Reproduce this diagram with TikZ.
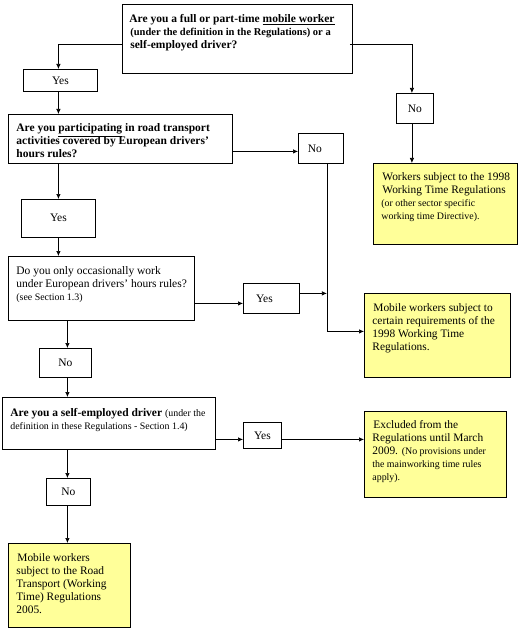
\documentclass[tikz,border=0pt]{standalone}
\usepackage{fontspec}
\setmainfont{Liberation Serif}
\usetikzlibrary{arrows.meta}
\definecolor{yel}{RGB}{255,255,153}
\newcommand\fs{\fontsize{9.9}{13}\selectfont}
% name, x, y, w, h, style, top lead, text
\newcommand\bx[8]{%
  \node[#6, anchor=north west, inner sep=0pt, minimum width=#4pt, minimum height=#5pt] (#1) at (#2,#3)
  {\parbox[c][#5pt][t]{#4pt}{\vspace*{#7pt}\leftskip=8pt\rightskip=0pt plus 1fil\parindent=0pt #8\par}};}
% centered label box: name, x, y, w, h, text
\newcommand\cbx[6]{%
  \node[lbl, minimum width=#4pt, minimum height=#5pt] (#1) at (#2,#3) {#6};}
\begin{document}
\begin{tikzpicture}[x=1pt,y=-1pt,
  qbox/.style={draw=black, line width=0.8pt, fill=white, font=\fontsize{11.5}{13}\selectfont},
  ybox/.style={draw=black, line width=0.8pt, fill=yel, font=\fontsize{11.4}{13}\selectfont},
  lbl/.style={draw=black, line width=0.8pt, fill=white, anchor=north west, inner sep=0pt, font=\fontsize{11.5}{12}\selectfont},
  arr/.style={line width=0.7pt, -{Latex[length=5pt,width=4.5pt]}},
  ln/.style={line width=0.7pt}]
\useasboundingbox (0,0) rectangle (520,631);
\fill[white] (0,0) rectangle (520,631);

% question boxes
\bx{q1}{122}{4}{230}{69}{qbox}{10}{\hspace*{-1pt}\textbf{Are you a full or part-time \underline{mobile worker}}\\
  {\fontsize{10.5}{13}\selectfont\textbf{(under the definition in the Regulations) or a}}\\
  \textbf{self-employed driver?}}
\bx{q2}{8}{114}{224}{49}{qbox}{9.5}{\textbf{Are you \underline{participating} in road transport\\
  activities covered by European drivers'\\ hours rules?}}
\bx{q3}{8}{256}{186}{64}{qbox}{10.5}{Do you only occasionally work\\
  under European drivers' hours rules?\\ {\fs (see Section 1.3)}}
\bx{q4}{2}{397}{213}{52}{qbox}{11}{\textbf{Are you a self-employed driver} {\fs (under the\\
  definition in these Regulations - Section 1.4)}}

% outcome boxes
\bx{y1}{373}{163}{144}{81}{ybox}{9.5}{\hspace*{1pt}Workers subject to the 1998\\ \hspace*{1pt}Working Time Regulations\\
  {\fs (or other sector specific\\ working time Directive).}}
\bx{y2}{364}{293}{146}{84}{ybox}{10.5}{\hspace*{1pt}Mobile workers subject to\\ certain requirements of the\\
  1998 Working Time\\ Regulations.}
\bx{y3}{364}{411}{142}{86}{ybox}{9}{\hspace*{1pt}Excluded from the\\ Regulations until March\\
  2009. {\fs (No provisions under\\ the mainworking time rules\\ apply).}}
\bx{y4}{8}{543}{122}{84}{ybox}{10.5}{\hspace*{1pt}Mobile workers\\ subject to the Road\\
  Transport (Working\\ Time) Regulations\\ 2005.}

% answer labels
\cbx{yes1}{23}{69}{74}{22}{Yes}
\cbx{no1}{396}{93}{37}{30}{No}
\cbx{no2}{298}{133}{45}{30}{\hspace*{-12pt}No}
\cbx{yes2}{21}{199}{74}{38}{\raisebox{2pt}{Yes}}
\cbx{yes3}{243}{283}{56}{30}{\hspace*{-14pt}Yes}
\cbx{no3}{39}{348}{52}{29}{No}
\cbx{yes4}{243}{422}{38}{26}{Yes}
\cbx{no4}{46}{478}{44}{27}{No}

% connectors
\coordinate (q1w) at ([yshift=-5pt]q1.west);
\coordinate (q1e) at ([yshift=-5pt]q1.east);
\draw[arr] (q1w) -| ([xshift=-2pt]yes1.north);
\draw[arr] ([xshift=-3pt]q1e) -| ([xshift=-3pt]no1.north);
\draw[arr] ([xshift=-3pt]no1.south) -- ([xshift=-3pt]no1.south |- y1.north);
\draw[arr] ([xshift=-2pt]yes1.south) -- ([xshift=-2pt]yes1.south |- q2.north);
\draw[arr] ([yshift=-3pt]no2.west -| q2.east) -- ([yshift=-3pt]no2.west);
\coordinate (j) at ([xshift=6pt]no2.south);
\draw[arr] (j) |- ([yshift=4pt]y2.west);
\draw[arr] (yes2.north |- q2.south) -- (yes2.north);
\draw[arr] (yes2.south) -- (yes2.south |- q3.north);
\draw[arr] ([yshift=-5pt]yes3.west -| q3.east) -- ([yshift=-5pt]yes3.west);
\draw[arr] ([yshift=5pt]yes3.east) -- ([yshift=5pt]yes3.east -| j);
\draw[arr] ([xshift=2pt]no3.north |- q3.south) -- ([xshift=2pt]no3.north);
\draw[arr] ([xshift=2pt]no3.south) -- ([xshift=2pt]no3.south |- q4.north);
\draw[arr] ([yshift=-4pt]yes4.west -| q4.east) -- ([yshift=-4pt]yes4.west);
\draw[arr] ([yshift=-4pt]yes4.east) -- ([yshift=-4pt]yes4.east -| y3.west);
\draw[arr] ([xshift=-1pt]no4.north |- q4.south) -- ([xshift=-1pt]no4.north);
\draw[arr] ([xshift=-1pt]no4.south) -- ([xshift=-1pt]no4.south |- y4.north);
\end{tikzpicture}
\end{document}
